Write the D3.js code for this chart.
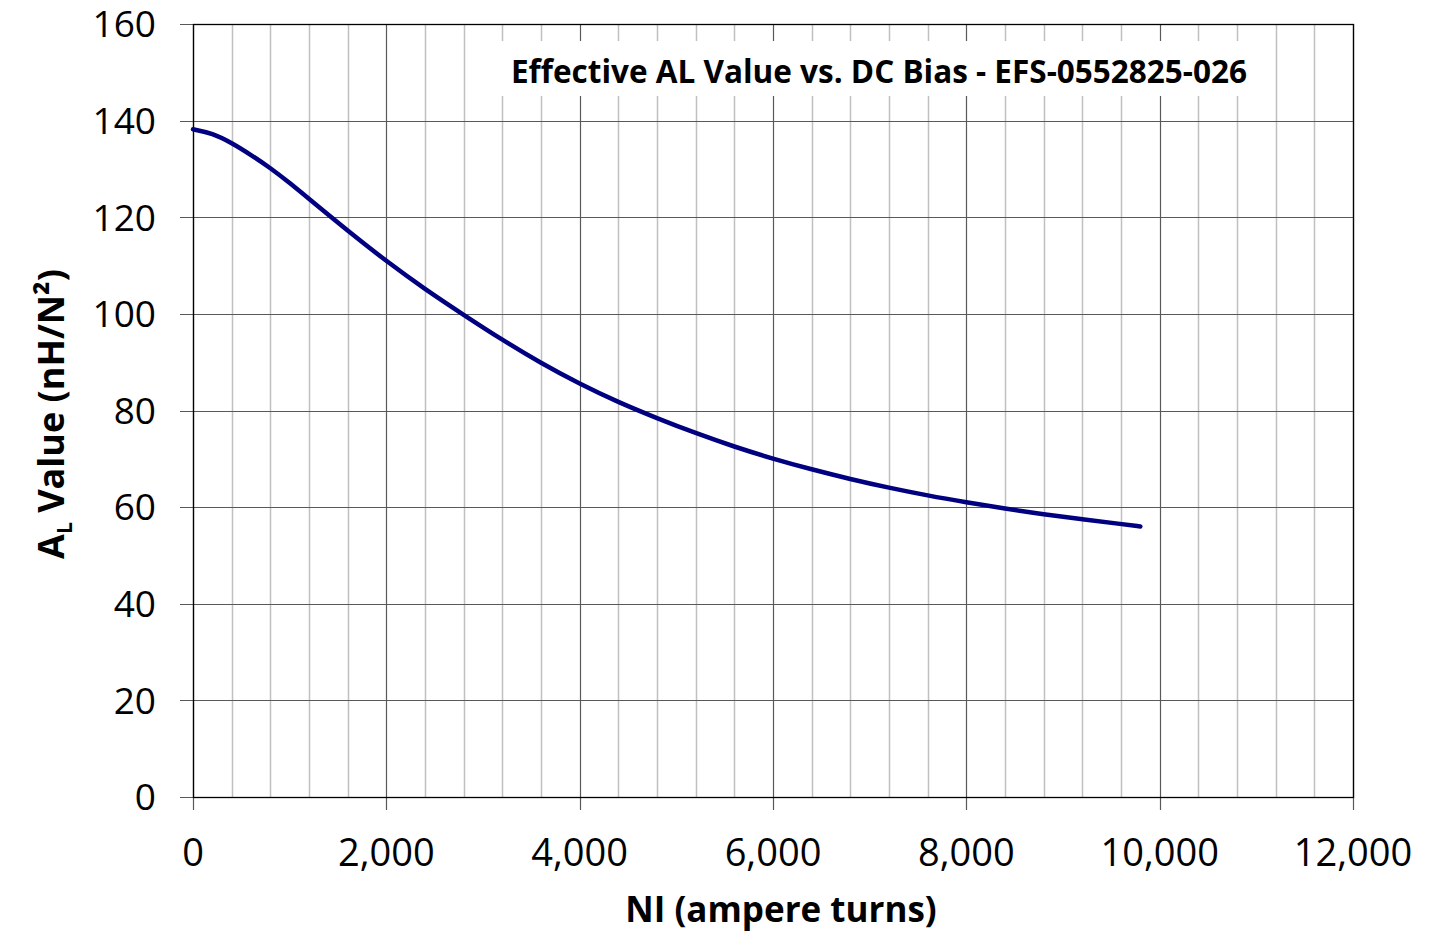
<html>
    <head>
        <title>AL Value vs DC Bias</title>
        <script src="https://cdnjs.cloudflare.com/ajax/libs/d3/7.8.5/d3.min.js"></script>
        <style>
            body { margin: 0; background: #fff; }
            text { font-family: "Open Sans", "Noto Sans", sans-serif; fill: #000; }
        </style>
    </head>

    <body>
        <svg width="1442" height="945"></svg>

        <script>
            // values
            var niValues = [0, 200, 400, 600, 800, 1000, 1200, 1600, 2000, 2400, 2800, 3200, 3600, 4000, 4400, 4800,
                            5200, 5600, 6000, 6400, 6800, 7200, 7600, 8000, 8400, 8800, 9200, 9600, 9800];
            var alValues = [138.2, 137.4, 135.4, 132.9, 130.2, 127.1, 123.8, 117.2, 110.9, 105.1, 99.8, 94.6, 89.8, 85.5, 81.7, 78.4,
                            75.3, 72.5, 70.0, 67.8, 65.8, 64.0, 62.4, 61.0, 59.7, 58.5, 57.5, 56.5, 56.0];

            var xTicks = [0, 2000, 4000, 6000, 8000, 10000, 12000];
            var xMinor = d3.range(0, 12001, 400);
            var yTicks = [0, 20, 40, 60, 80, 100, 120, 140, 160];

            var chartTitle = "Effective AL Value vs. DC Bias - EFS-0552825-026";
            var xTitle = "NI (ampere turns)";

            var data = niValues.map((n, i) => ({ni: n, al: alValues[i]}));

            var plotL = 193, plotR = 1353, plotT = 24, plotB = 797;

            var svg = d3.select("svg");

            var xScale = d3.scaleLinear().domain([0, 12000]).range([plotL, plotR]);
            var yScale = d3.scaleLinear().domain([0, 160]).range([plotB, plotT]);

            // minor vertical grid
            svg.append("g")
               .selectAll("line")
               .data(xMinor.filter(d => d % 2000 != 0))
               .enter()
               .append("line")
               .attr("x1", d => Math.round(xScale(d)) + 0.5)
               .attr("x2", d => Math.round(xScale(d)) + 0.5)
               .attr("y1", plotT)
               .attr("y2", plotB)
               .attr("stroke", "#c0c0c0")
               .attr("stroke-width", 1.5);

            // major vertical grid + tick marks below axis
            svg.append("g")
               .selectAll("line")
               .data(xTicks)
               .enter()
               .append("line")
               .attr("x1", d => Math.round(xScale(d)) + 0.5)
               .attr("x2", d => Math.round(xScale(d)) + 0.5)
               .attr("y1", plotT)
               .attr("y2", plotB + 13)
               .attr("stroke", "#595959")
               .attr("stroke-width", 1.2);

            // horizontal grid + tick marks left of axis
            svg.append("g")
               .selectAll("line")
               .data(yTicks)
               .enter()
               .append("line")
               .attr("x1", plotL - 13)
               .attr("x2", plotR)
               .attr("y1", d => Math.round(yScale(d)) + 0.5)
               .attr("y2", d => Math.round(yScale(d)) + 0.5)
               .attr("stroke", "#595959")
               .attr("stroke-width", 1.2);

            // plot border
            svg.append("rect")
               .attr("x", plotL + 0.5)
               .attr("y", plotT + 0.5)
               .attr("width", plotR - plotL)
               .attr("height", plotB - plotT)
               .attr("fill", "none")
               .attr("stroke", "#000")
               .attr("stroke-width", 1.3);

            // tick labels
            svg.append("g")
               .selectAll("text")
               .data(yTicks)
               .enter()
               .append("text")
               .attr("x", 156)
               .attr("y", d => yScale(d))
               .attr("dy", "0.36em")
               .attr("text-anchor", "end")
               .style("font-size", "37px")
               .text(d => d);

            svg.append("g")
               .selectAll("text")
               .data(xTicks)
               .enter()
               .append("text")
               .attr("x", d => xScale(d))
               .attr("y", 866)
               .attr("text-anchor", "middle")
               .style("font-size", "38px")
               .text(d => d3.format(",")(d));

            // chart title on a white box
            svg.append("rect")
               .attr("x", 488)
               .attr("y", 41)
               .attr("width", 780)
               .attr("height", 55)
               .attr("fill", "#fff");

            svg.append("text")
               .attr("x", 879)
               .attr("y", 83)
               .attr("text-anchor", "middle")
               .style("font-size", "31.5px")
               .style("font-weight", "bold")
               .text(chartTitle);

            // axis titles
            svg.append("text")
               .attr("x", 781)
               .attr("y", 922)
               .attr("text-anchor", "middle")
               .style("font-size", "35px")
               .style("font-weight", "bold")
               .text(xTitle);

            var yt = svg.append("text")
               .attr("transform", "translate(64,414) rotate(-90)")
               .attr("text-anchor", "middle")
               .style("font-size", "36px")
               .style("font-weight", "bold");
            yt.append("tspan").text("A");
            yt.append("tspan").attr("dy", 8).style("font-size", "21px").text("L");
            yt.append("tspan").attr("dy", -8).text(" Value (nH/N\u00B2)");

            // the curve
            var line = d3.line()
                         .x(d => xScale(d.ni))
                         .y(d => yScale(d.al))
                         .curve(d3.curveBasis);

            svg.append("path")
               .datum(data)
               .attr("d", line)
               .attr("fill", "none")
               .attr("stroke", "#000080")
               .attr("stroke-width", 4.5)
               .attr("stroke-linecap", "round");
        </script>
    </body>
</html>
